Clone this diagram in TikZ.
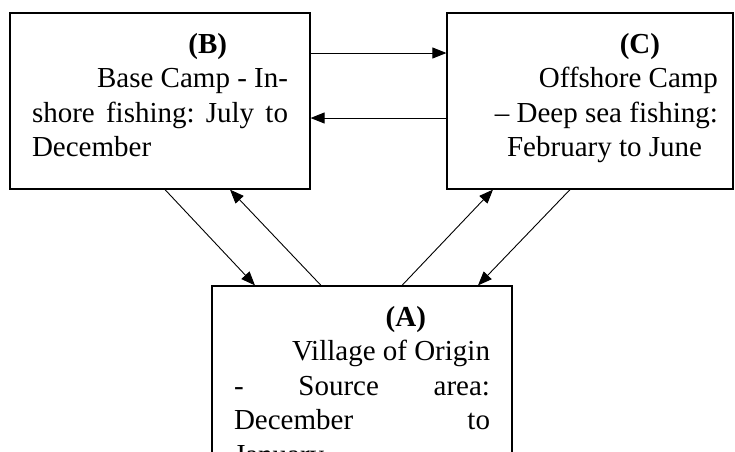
\documentclass[tikz,border=0pt]{standalone}
\usepackage{fontspec}
\setmainfont{Liberation Serif}
\usetikzlibrary{arrows.meta}
\newcommand{\campText}[1]{\parbox[c][176pt][t]{256pt}{\fontsize{29}{34.5}\selectfont #1}}

\begin{document}
\begin{tikzpicture}[
    x=1pt, y=-1pt,
    >={Triangle[length=14pt,width=11pt]},
    camp/.style={
        draw,
        line width=1.2pt,
        inner xsep=22pt,
        inner ysep=0pt
    },
    arrow/.style={
        ->,
        line width=0.9pt
    }
]
\clip (0,0) rectangle (735,451);

\node[camp] (base) at (160,101) {\campText{%
    \rule{0pt}{40pt}\hspace*{\fill}\textbf{(B)}\hspace*{61pt}\\
    \hspace*{\fill}Base Camp - In-\\
    shore\hfill fishing:\hfill July\hfill to\\
    December}};
\node[camp, inner xsep=15pt] (offshore) at (590,101) {\campText{%
    \rule{0pt}{40pt}\hspace*{\fill}\textbf{(C)}\hspace*{58pt}\\
    \hspace*{\fill}Offshore Camp\\
    \hspace*{\fill}-- Deep sea fishing:\\
    \hspace*{\fill}February to June\hspace*{16pt}}};
\node[camp] (village) at (362,374) {\campText{%
    \rule{0pt}{40pt}\hspace*{\fill}\textbf{(A)}\hspace*{64pt}\\
    \hspace*{\fill}Village of Origin\\
    -\hfill Source\hfill area:\\
    December\hfill to\\
    January}};

\draw[arrow] ([yshift=48pt]base.east) -- ([yshift=48pt]offshore.west);
\draw[arrow] ([yshift=-17pt]offshore.west) -- ([yshift=-17pt]base.east);

\draw[arrow] ([xshift=5pt]base.south) -- ([xshift=-107pt]village.north);
\draw[arrow] ([xshift=-41pt]village.north) -- ([xshift=70pt]base.south);
\draw[arrow] ([xshift=40pt]village.north) -- ([xshift=-97pt]offshore.south);
\draw[arrow] ([xshift=-20pt]offshore.south) -- ([xshift=116pt]village.north);

\end{tikzpicture}
\end{document}
